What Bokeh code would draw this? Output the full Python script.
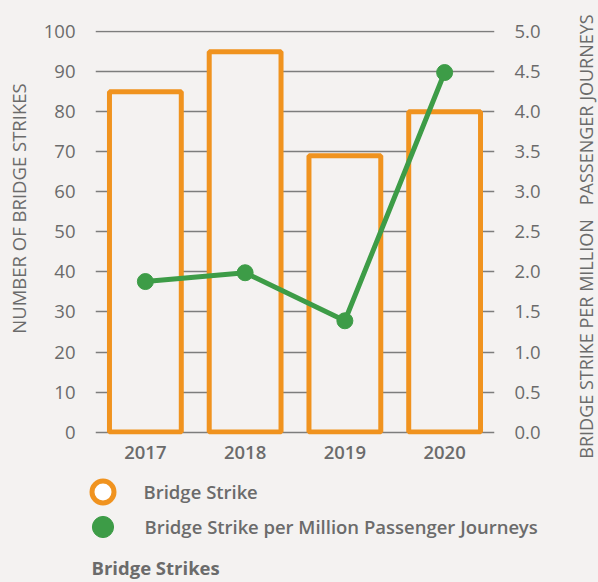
import math
from bokeh.plotting import figure
from bokeh.layouts import column, row
from bokeh.models import (Range1d, LinearAxis, FactorRange, FixedTicker, Legend, LegendItem,
                          Label, NumeralTickFormatter)
from bokeh.embed import file_html
from bokeh.resources import INLINE

years = ["2017", "2018", "2019", "2020"]
strikes = [85, 95, 69, 80]
per_million = [1.88, 1.99, 1.39, 4.49]
left_ticks = [0, 10, 20, 30, 40, 50, 60, 70, 80, 90, 100]
right_ticks = [0.0, 0.5, 1.0, 1.5, 2.0, 2.5, 3.0, 3.5, 4.0, 4.5, 5.0]
series_names = ["Bridge Strike", "Bridge Strike per Million Passenger Journeys"]
left_title = "NUMBER OF BRIDGE STRIKES"
right_title = "BRIDGE STRIKE PER MILLION \u00a0\u00a0PASSENGER JOURNEYS"
caption = "Bridge Strikes"

BG = "#f4f2f1"
ORANGE = "#f0931f"
GREEN = "#3d9c47"
TXT = "#6b6b6b"
GRID = "#7d7d7d"
FONT = "Open Sans"
SEMI = "'Open Sans SemiBold', 'Open Sans Semibold', 'Open Sans'"
FS = "18.5px"

W = 598
H_MAIN = 470
H_LEG = 112
W_L = 40
W_R = 30
W_P = W - W_L - W_R


def blank(width, height):
    f = figure(x_range=Range1d(0, width), y_range=Range1d(0, height), width=width, height=height,
               output_backend="svg", toolbar_location=None, x_axis_type=None, y_axis_type=None,
               min_border=0, frame_align=False)
    f.background_fill_color = BG
    f.border_fill_color = BG
    f.outline_line_color = None
    f.grid.visible = False
    return f


p = figure(x_range=FactorRange(factors=years, range_padding=0),
           y_range=Range1d(-0.6, 100.3),
           width=W_P, height=H_MAIN, output_backend="svg", toolbar_location=None,
           min_border_left=54, min_border_right=74, min_border_top=30, min_border_bottom=36,
           frame_align=False)
p.extra_y_ranges = {"right": Range1d(-0.03, 5.015)}

p.background_fill_color = BG
p.border_fill_color = BG
p.outline_line_color = None

# grid
p.xgrid.visible = False
p.ygrid.ticker = FixedTicker(ticks=left_ticks)
p.ygrid.grid_line_color = GRID
p.ygrid.grid_line_width = 1.5

# axes
yl = p.yaxis[0]
yl.ticker = FixedTicker(ticks=left_ticks)
yr = LinearAxis(y_range_name="right", ticker=FixedTicker(ticks=right_ticks),
                formatter=NumeralTickFormatter(format="0.0"))
p.add_layout(yr, "right")

for ax in [yl, yr]:
    ax.axis_line_color = None
    ax.major_tick_line_color = None
    ax.minor_tick_line_color = None
    ax.major_label_text_font = FONT
    ax.major_label_text_font_size = FS
    ax.major_label_text_color = TXT
    ax.major_label_standoff = 14

xa = p.xaxis[0]
xa.axis_line_color = None
xa.major_tick_line_color = None
xa.minor_tick_line_color = None
xa.major_label_text_font = SEMI
xa.major_label_text_font_size = FS
xa.major_label_text_color = TXT
xa.major_label_standoff = 5

# bars
p.vbar(x=years, top=strikes, bottom=0, width=0.72, fill_color=BG,
       line_color=ORANGE, line_width=5)

# line
p.line(x=years, y=per_million, y_range_name="right", line_color=GREEN,
       line_width=5, line_join="round")
p.scatter(x=years, y=per_million, y_range_name="right", size=16,
          fill_color=GREEN, line_color=GREEN)

# axis titles in side strips
lt = blank(W_L, H_MAIN)
lt.add_layout(Label(x=18, y=H_MAIN - 208, x_units="screen", y_units="screen", text=left_title,
                    angle=math.pi / 2, text_align="center", text_baseline="middle",
                    text_font=FONT, text_font_size=FS, text_color=TXT))
rt = blank(W_R, H_MAIN)
rt.add_layout(Label(x=17.5, y=H_MAIN - 236, x_units="screen", y_units="screen", text=right_title,
                    angle=math.pi / 2, text_align="center", text_baseline="middle",
                    text_font=FONT, text_font_size="18px", text_color=TXT))

# legend + caption panel
lf = blank(W, H_LEG)
nan = float("nan")
r_ring = lf.scatter(x=[nan], y=[nan], size=22, fill_color="white",
                    line_color=ORANGE, line_width=5)
r_dot = lf.scatter(x=[nan], y=[nan], size=21, fill_color=GREEN,
                   line_color=GREEN, line_width=1)


def mk_legend(name, r, gsize, loc, standoff):
    lg = Legend(items=[LegendItem(label=name, renderers=[r])], location=loc,
                glyph_width=gsize, glyph_height=gsize, padding=0, margin=0,
                border_line_color=None, background_fill_alpha=0,
                label_text_font=SEMI, label_text_font_size=FS,
                label_text_color=TXT, label_standoff=standoff)
    lf.add_layout(lg, "center")


mk_legend(series_names[0], r_ring, 55, (74.5, 63.5), 14)
mk_legend(series_names[1], r_dot, 53, (75.5, 29.5), 16)

lf.add_layout(Label(x=91, y=15, x_units="screen", y_units="screen", text=caption,
                    text_font=FONT, text_font_size=FS, text_font_style="bold",
                    text_color=TXT, text_baseline="middle"))

layout = column(row(lt, p, rt, spacing=0), lf, spacing=0)
html = file_html(layout, INLINE)
html = html.replace("<head>", "<head><style>body{background:#f4f2f1;}</style>", 1)
open("out.html", "w").write(html)
